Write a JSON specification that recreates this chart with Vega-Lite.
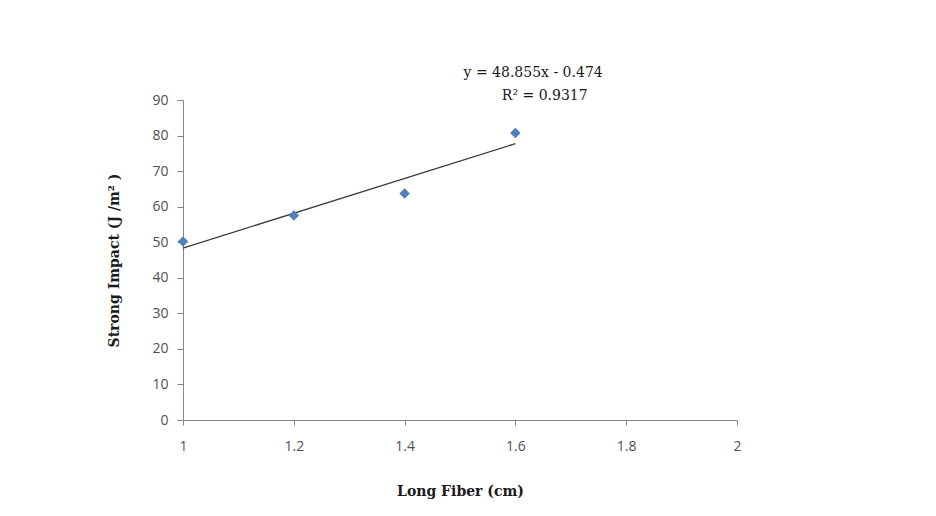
{
  "$schema": "https://vega.github.io/schema/vega-lite/v6.json",
  "width": 554,
  "height": 320,
  "autosize": {"type": "none"},
  "padding": {"left": 183, "top": 100, "right": 199, "bottom": 96},
  "background": "white",
  "config": {"view": {"stroke": null}},
  "datasets": {
    "pts": [
      {"fiber": 1.0, "impact": 50.2},
      {"fiber": 1.2, "impact": 57.5},
      {"fiber": 1.4, "impact": 63.7},
      {"fiber": 1.6, "impact": 80.75}
    ],
    "labels": [
      {"fiber": 1.632, "impact": 97.6, "text": "y = 48.855x - 0.474"},
      {"fiber": 1.653, "impact": 91.2, "text": "R² = 0.9317"}
    ]
  },
  "encoding": {
    "x": {
      "field": "fiber", "type": "quantitative",
      "scale": {"domain": [1, 2], "nice": false, "zero": false},
      "axis": {
        "title": "Long Fiber (cm)", "values": [1, 1.2, 1.4, 1.6, 1.8, 2], "format": "~g",
        "labelFlush": false,
        "grid": false, "domainColor": "#868686", "tickColor": "#868686", "tickSize": 5,
        "labelFont": "Open Sans", "labelFontSize": 14, "labelColor": "#505050", "labelPadding": 14,
        "titleFont": "DejaVu Serif", "titleFontSize": 14, "titleFontWeight": "bold", "titleColor": "#1a1a1a",
        "titlePadding": 31
      }
    },
    "y": {
      "field": "impact", "type": "quantitative",
      "scale": {"domain": [0, 90], "nice": false},
      "axis": {
        "title": "Strong Impact  (J /m² )", "values": [0, 10, 20, 30, 40, 50, 60, 70, 80, 90],
        "labelFlush": false,
        "grid": false, "domainColor": "#868686", "tickColor": "#868686", "tickSize": 6,
        "labelFont": "Open Sans", "labelFontSize": 14, "labelColor": "#505050", "labelPadding": 9,
        "titleFont": "DejaVu Serif", "titleFontSize": 14, "titleFontWeight": "bold", "titleColor": "#1a1a1a",
        "titlePadding": 30
      }
    }
  },
  "layer": [
    {
      "data": {"name": "pts"},
      "transform": [{"regression": "impact", "on": "fiber", "method": "linear", "extent": [1, 1.6]}],
      "mark": {"type": "line", "color": "#3a3a3a", "strokeWidth": 1.3},
      "encoding": {}
    },
    {
      "data": {"name": "pts"},
      "mark": {"type": "point", "shape": "diamond", "filled": true, "color": "#4F81BD", "size": 110, "opacity": 1},
      "encoding": {}
    },
    {
      "data": {"name": "labels"},
      "mark": {"type": "text", "font": "DejaVu Serif", "fontSize": 14, "color": "#1a1a1a", "clip": false},
      "encoding": {"text": {"field": "text"}}
    }
  ]
}
